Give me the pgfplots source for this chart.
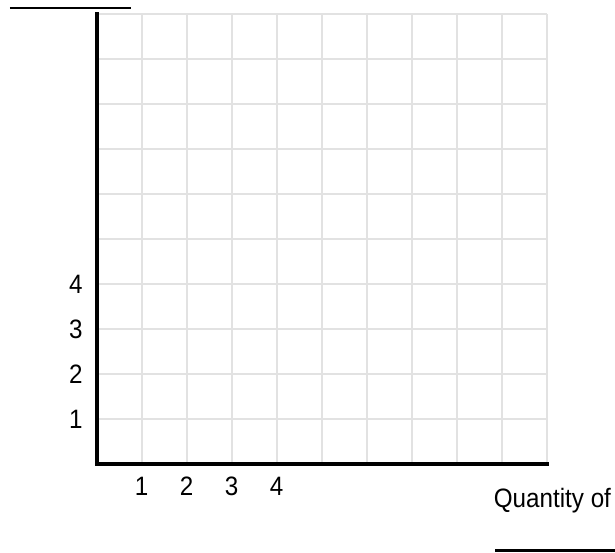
\documentclass[border=0pt]{standalone}
\usepackage{fontspec}
\setmainfont{Liberation Sans}
\newfontfamily\labfont[FakeStretch=0.91]{Liberation Sans}
\usepackage{pgfplots}
\pgfplotsset{compat=1.18}
\definecolor{gridgray}{RGB}{226,226,226}
\newcommand{\lab}{\labfont\fontsize{26.6}{30}\selectfont}
\begin{document}
\begin{tikzpicture}
\useasboundingbox (-96.7pt,-87.7pt) rectangle (518.3pt,464.3pt);
\begin{axis}[
 at={(0,0)}, anchor=south west,
 scale only axis, width=450pt, height=450pt,
 xmin=0,xmax=10,ymin=0,ymax=10,
 axis x line=bottom, axis y line=left,
 axis line style={line width=4pt, -, black, line cap=rect},
 xtick={1,...,10}, ytick={1,...,10},
 xticklabels={1,2,3,4,,,,,,}, yticklabels={1,2,3,4,,,,,,},
 major tick length=0pt,
 grid=major, major grid style={gridgray, line width=2pt},
 /pgf/number format/assume math mode=true,
 ticklabel style={font=\lab, inner sep=0pt},
 xticklabel style={anchor=north, yshift=-12.7pt},
 yticklabel style={anchor=east, xshift=-14pt},
 clip=false,
]
\addplot[draw=none] coordinates {(0,0) (10,10)};
\end{axis}
\draw[line width=2.7pt] (-86.7pt,456.3pt) -- (34.3pt,456.3pt);
\draw[line width=2.7pt] (398.3pt,-86.4pt) -- (518.3pt,-86.4pt);
\node[anchor=base west, inner sep=0pt, font=\lab] at (397pt,-42.7pt) {Quantity of};
\end{tikzpicture}
\end{document}
